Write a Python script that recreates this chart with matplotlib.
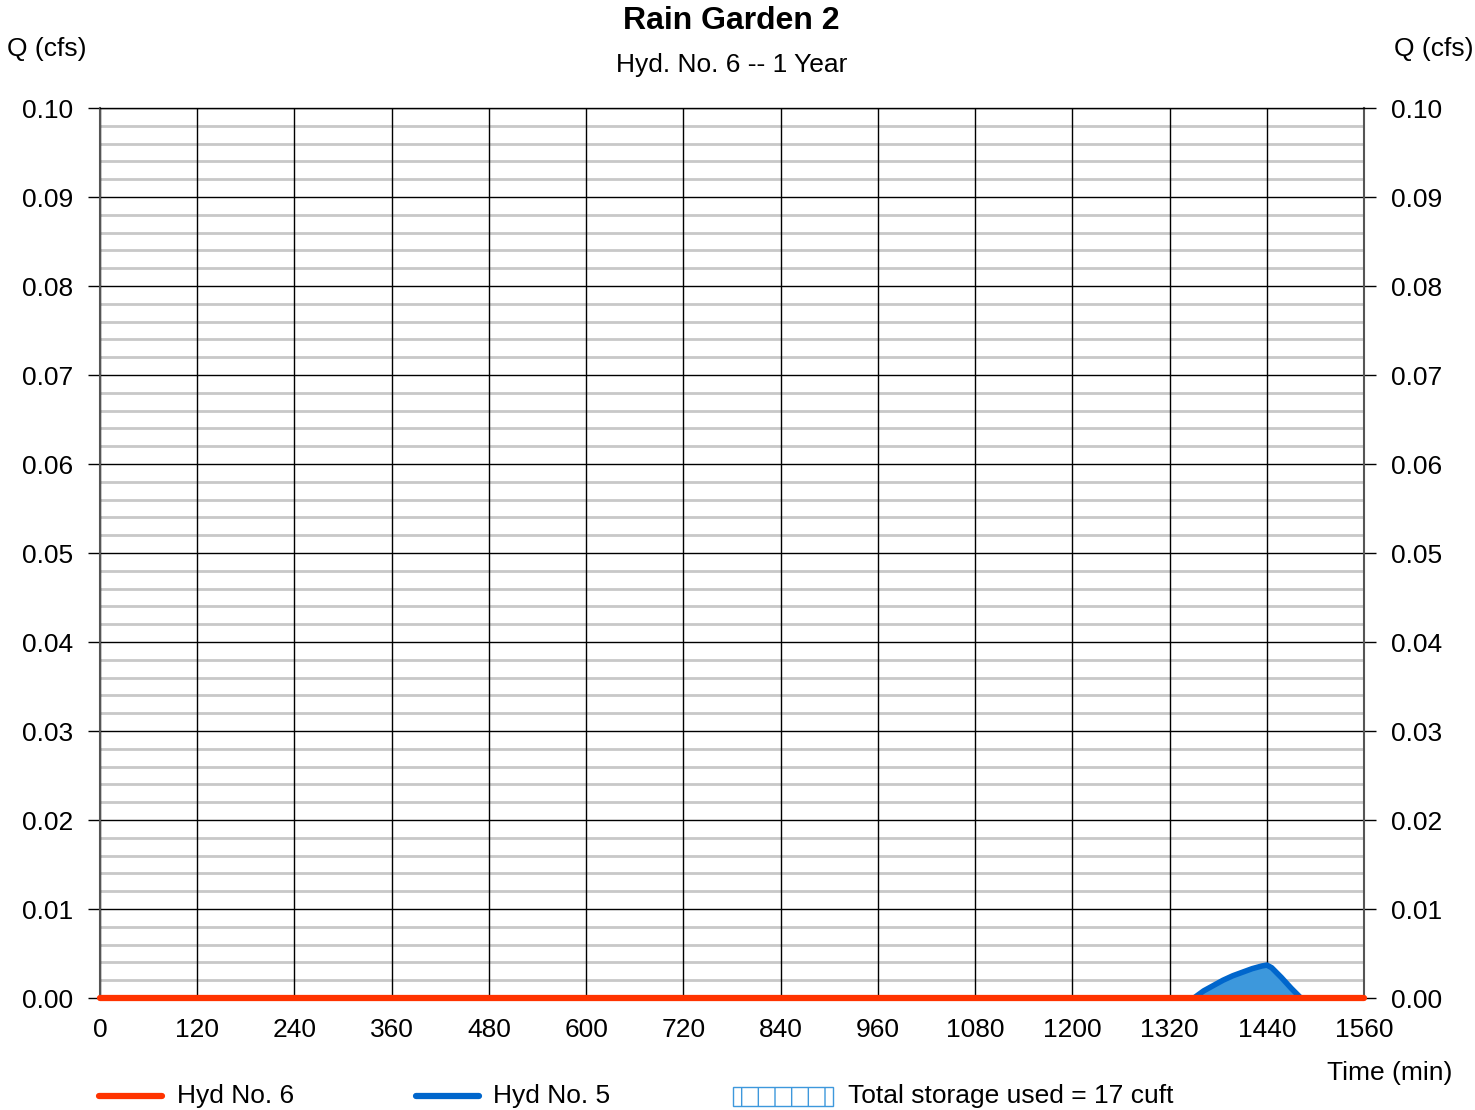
import matplotlib
matplotlib.use("Agg")
import matplotlib.pyplot as plt
from matplotlib.patches import Rectangle
from matplotlib.lines import Line2D

plt.rcParams['font.family'] = ['Liberation Sans', 'DejaVu Sans']
plt.rcParams['hatch.color'] = '#3d98dc'

# data
hyd6_t = [0, 1560]
hyd6_q = [0.0, 0.0]
hyd5_t = [1350, 1362, 1374, 1386, 1398, 1410, 1422, 1434, 1440, 1446, 1458, 1470, 1482]
hyd5_q = [0.0, 0.0008, 0.0014, 0.0020, 0.0025, 0.0029, 0.0033, 0.0036, 0.0037, 0.0034, 0.0023, 0.0011, 0.0]
x_ticks = list(range(0, 1561, 120))
y_ticks = [i / 100 for i in range(0, 11)]

fig = plt.figure(figsize=(14.75, 11.1), dpi=100)
ax = fig.add_axes([0.0678, 0.1009, 0.857, 0.8018])
ax.set_xlim(0, 1560)
ax.set_ylim(0, 0.10)

# minor grid
for k in range(51):
    v = k * 0.002
    if k % 5:
        ax.axhline(v, color='#c8c8c8', lw=2, zorder=1)
for v in y_ticks:
    ax.axhline(v, color='black', lw=1, zorder=2)
for t in x_ticks:
    ax.axvline(t, color='black', lw=1, zorder=2)

ax.fill_between(hyd5_t, hyd5_q, 0, color='#3d98dc', zorder=3, lw=0)
ax.plot(hyd5_t, hyd5_q, color='#0066cc', lw=4, zorder=4, solid_capstyle='round')
ax.plot(hyd6_t, hyd6_q, color='#ff3300', lw=4.5, zorder=5, clip_on=False, solid_capstyle='round')

for s in ax.spines.values():
    s.set_color('#555555')
    s.set_linewidth(1.5)
ax.spines['top'].set_color('black')
ax.spines['top'].set_linewidth(1)

ax.set_xticks(x_ticks)
ax.set_xticklabels([str(t) for t in x_ticks])
ax.set_yticks(y_ticks)
ax.set_yticklabels(['%.2f' % v for v in y_ticks])
ax.tick_params(axis='x', length=0, pad=14.5, labelsize=19)
ax.tick_params(axis='y', length=8.6, width=1, pad=11, labelsize=19,
               right=True, labelright=True)
ax.tick_params(axis='y', which='major', right=True)
for lab in ax.yaxis.get_ticklabels(which='major'):
    pass
ax.yaxis.set_tick_params(which='major', pad=11)
for t in ax.yaxis.get_major_ticks():
    t.label2.set_x(1.0)
    t.set_pad(11)

fig.text(0.4958, 0.981, 'Rain Garden 2', ha='center', va='center', fontsize=23, fontweight='bold')
fig.text(0.4958, 0.9415, 'Hyd. No. 6 -- 1 Year', ha='center', va='center', fontsize=19)
fig.text(0.032, 0.956, 'Q (cfs)', ha='center', va='center', fontsize=19)
fig.text(0.972, 0.956, 'Q (cfs)', ha='center', va='center', fontsize=19)
fig.text(0.942, 0.0333, 'Time (min)', ha='center', va='center', fontsize=19)

# legend row
ly = 0.0126
fig.add_artist(Line2D([0.067, 0.110], [ly, ly], color='#ff3300', lw=4.5, solid_capstyle='round'))
fig.text(0.120, ly, 'Hyd No. 6', va='center', fontsize=19)
fig.add_artist(Line2D([0.282, 0.325], [ly, ly], color='#0066cc', lw=4.5, solid_capstyle='round'))
fig.text(0.334, ly, 'Hyd No. 5', va='center', fontsize=19)
fig.add_artist(Rectangle((0.497, 0.004), 0.068, 0.017, transform=fig.transFigure,
                         facecolor='white', edgecolor='#3d98dc', hatch='|', lw=1))
fig.text(0.575, ly, 'Total storage used = 17 cuft', va='center', fontsize=19)

fig.savefig('out.png', dpi=100)
